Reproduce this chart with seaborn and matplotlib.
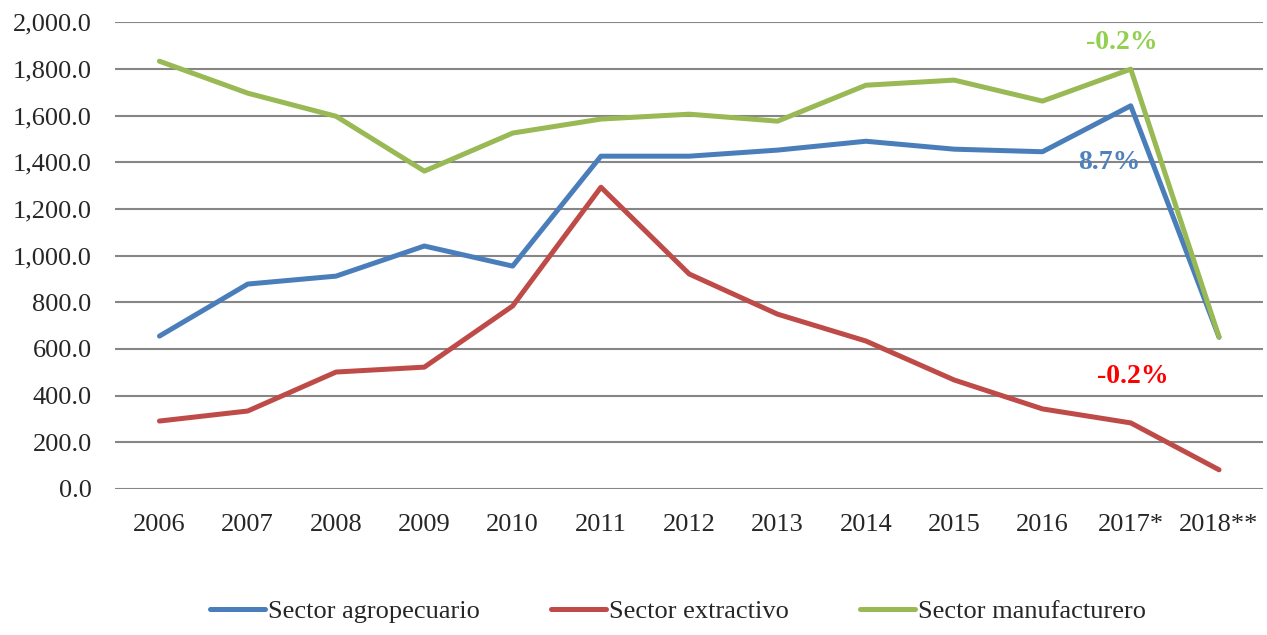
import pandas as pd
import seaborn as sns
import matplotlib.pyplot as plt

years = ['2006', '2007', '2008', '2009', '2010', '2011', '2012',
         '2013', '2014', '2015', '2016', '2017*', '2018**']
agro = [655, 878, 912, 1041, 955, 1426, 1426, 1452, 1490, 1456, 1445, 1642, 650]
extractivo = [291, 334, 501, 522, 784, 1293, 921, 749, 634, 467, 343, 283, 82]
manufact = [1833, 1696, 1597, 1362, 1525, 1585, 1606, 1576, 1730, 1752, 1662, 1799, 651]
series = ['Sector agropecuario', 'Sector extractivo', 'Sector manufacturero']
colors = ['#4A7EBB', '#BE4B48', '#98B954']

data = pd.DataFrame({
    'year': years * 3,
    'value': agro + extractivo + manufact,
    'sector': [s for s in series for _ in years],
})

sns.set_style('white')
plt.rcParams['font.family'] = ['Liberation Serif', 'DejaVu Serif']

fig, ax = plt.subplots(figsize=(12.67, 6.35), dpi=100)
fig.subplots_adjust(left=0.091, right=0.997, top=0.965, bottom=0.23)

sns.lineplot(data=data, x='year', y='value', hue='sector', palette=colors,
             linewidth=3.6, sort=False, ax=ax)

ax.set_ylim(0, 2000)
ax.set_yticks(range(0, 2001, 200))
ax.set_yticklabels([f'{v:,.1f}' for v in range(0, 2001, 200)])
ax.set_xlim(-0.5, len(years) - 0.5)
ax.yaxis.grid(True, color='#868686', linewidth=1.5)
ax.set_axisbelow(True)
for s in ax.spines.values():
    s.set_visible(False)
ax.tick_params(axis='both', labelsize=19, length=0)
ax.tick_params(axis='y', pad=17)
ax.tick_params(axis='x', pad=18)
ax.set_xlabel('')
ax.set_ylabel('')

ax.text(10.9, 1914, '-0.2%', color='#92D050', fontsize=20, fontweight='bold', ha='center', va='center')
ax.text(10.76, 1400, '8.7%', color='#4F81BD', fontsize=20, fontweight='bold', ha='center', va='center')
ax.text(11.02, 480, '-0.2%', color='#FF0000', fontsize=20, fontweight='bold', ha='center', va='center')

ax.legend(loc='center', bbox_to_anchor=(0.49, -0.262), ncol=3, frameon=False,
          fontsize=19, handlelength=2.1, handletextpad=0.1, columnspacing=2.7)

plt.savefig('out.png')
